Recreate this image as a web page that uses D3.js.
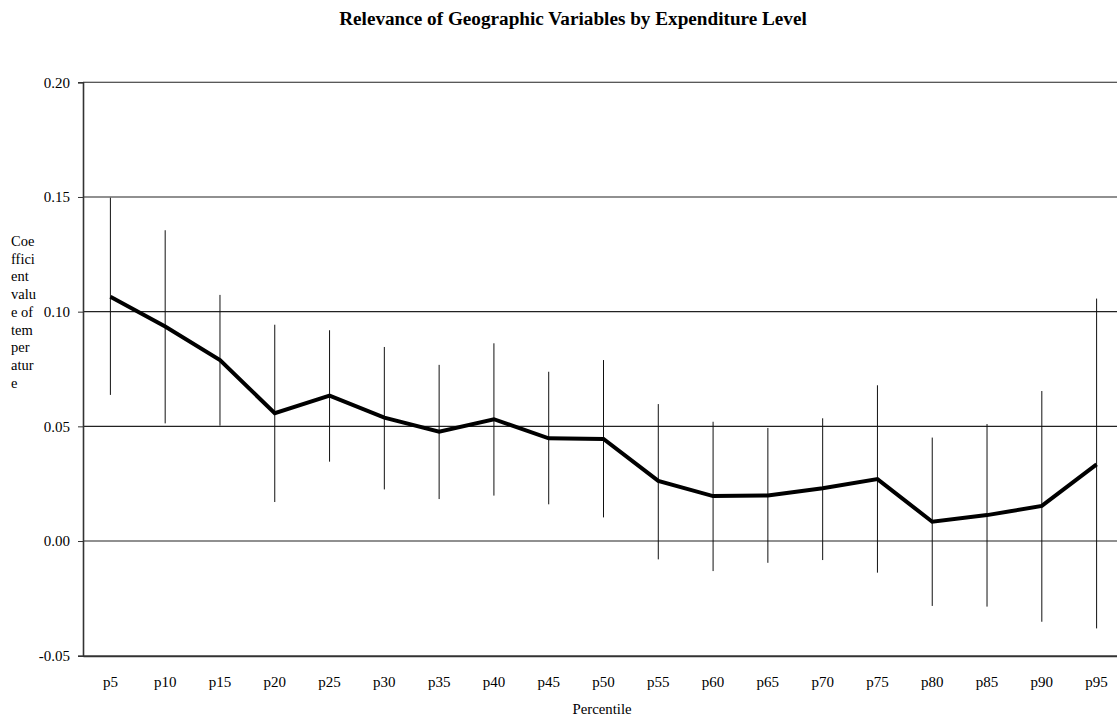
<!DOCTYPE html>
<html><head><meta charset="utf-8">
<script src="https://cdn.jsdelivr.net/npm/d3@7"></script>
<style>body{margin:0;background:#fff;}svg{display:block;}text{font-family:"Liberation Serif","Times New Roman",serif;fill:#000;}</style>
</head><body><svg id="c" width="1117" height="717"></svg>
<script>
const categories = ["p5","p10","p15","p20","p25","p30","p35","p40","p45","p50","p55","p60","p65","p70","p75","p80","p85","p90","p95"];
const coef  = [0.1065,0.0935,0.0789,0.0557,0.0634,0.0538,0.0477,0.0531,0.0448,0.0445,0.0262,0.0196,0.0199,0.0230,0.0270,0.0084,0.0113,0.0153,0.0334];
const upper = [0.1497,0.1355,0.1073,0.0943,0.0919,0.0846,0.0768,0.0862,0.0738,0.0789,0.0597,0.0520,0.0493,0.0535,0.0679,0.0451,0.0510,0.0654,0.1057];
const lower = [0.0637,0.0513,0.0503,0.0170,0.0346,0.0225,0.0183,0.0198,0.0160,0.0103,-0.0080,-0.0131,-0.0095,-0.0083,-0.0138,-0.0283,-0.0286,-0.0352,-0.0381];
const yTicks = [-0.05,0,0.05,0.10,0.15,0.20];
const yTickLabels = ["-0.05","0.00","0.05","0.10","0.15","0.20"];
const yLabelLines = ["Coe","ffici","ent","valu","e of","tem","per","atur","e"];

const svg = d3.select("#c");
const L = 83, R = 1124, T = 82.3, B = 655.7;
const x = d3.scaleBand().domain(categories).range([L, R]).padding(0);
const y = d3.scaleLinear().domain([-0.05, 0.20]).range([B, T]);
const cx = c => x(c) + x.bandwidth()/2;

// title
svg.append("text").attr("x", 573).attr("y", 25).attr("text-anchor","middle")
  .attr("font-size", 19.2).attr("font-weight","bold")
  .text("Relevance of Geographic Variables by Expenditure Level");

// gridlines
svg.append("g").selectAll("line").data(yTicks.filter(t=>t>-0.05)).join("line")
  .attr("x1", L).attr("x2", R).attr("y1", d=>y(d)).attr("y2", d=>y(d))
  .attr("stroke","#222").attr("stroke-width",1.1);

// y axis
const ya = svg.append("g").attr("transform",`translate(${L},0)`)
  .call(d3.axisLeft(y).tickValues(yTicks).tickFormat((d,i)=>yTickLabels[i]).tickSize(5).tickPadding(8));
ya.select(".domain").attr("stroke","#333").attr("stroke-width",1.6);
ya.selectAll(".tick line").attr("stroke","#333");
ya.selectAll("text").attr("font-size",15).attr("font-family","Liberation Serif");

// x axis
const xa = svg.append("g").attr("transform",`translate(0,${B})`)
  .call(d3.axisBottom(x).tickSize(0).tickPadding(21));
xa.select(".domain").attr("stroke","#333").attr("stroke-width",2);
xa.selectAll("text").attr("font-size",15).attr("font-family","Liberation Serif");

// axis titles
svg.append("text").attr("x", 602).attr("y", 714).attr("text-anchor","middle")
  .attr("font-size",14.8).text("Percentile");
const yl = svg.append("text").attr("x", 11).attr("y", 246).attr("font-size",14.5);
yl.selectAll("tspan").data(yLabelLines).join("tspan")
  .attr("x", 11).attr("dy", (d,i)=> i===0 ? 0 : 17.7).text(d=>d);

// error bars
svg.append("g").selectAll("line").data(categories).join("line")
  .attr("x1", d=>cx(d)).attr("x2", d=>cx(d))
  .attr("y1", (d,i)=>y(upper[i])).attr("y2", (d,i)=>y(lower[i]))
  .attr("stroke","#111").attr("stroke-width",1);

// main line
const line = d3.line().x((d,i)=>cx(categories[i])).y(d=>y(d));
svg.append("path").datum(coef).attr("d", line).attr("fill","none")
  .attr("stroke","#000").attr("stroke-width",4).attr("stroke-linejoin","miter");
</script></body></html>
